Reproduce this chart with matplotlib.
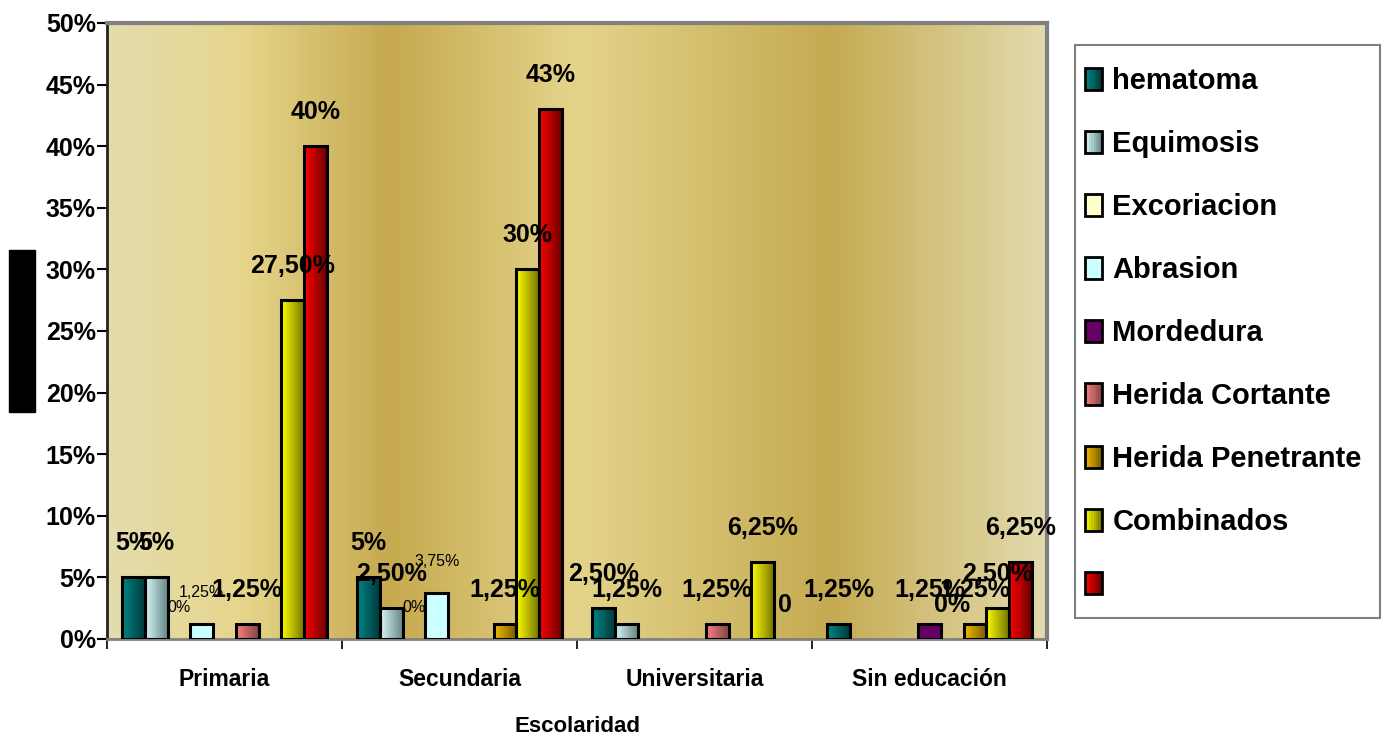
#!/usr/bin/env python3
"""
Tipo de lesión según escolaridad: barras agrupadas con relleno en degradado.
"""

import numpy as np

import matplotlib
matplotlib.use("Agg")
import matplotlib.pyplot as plt
from matplotlib.colors import LinearSegmentedColormap, to_rgb
from matplotlib.legend_handler import HandlerBase
from matplotlib.patches import Rectangle

plt.rcParams['font.family'] = ['Liberation Sans', 'DejaVu Sans']

niveles = ["Primaria", "Secundaria", "Universitaria", "Sin educación"]

series = ["hematoma", "Equimosis", "Excoriacion", "Abrasion", "Mordedura",
          "Herida Cortante", "Herida Penetrante", "Combinados", ""]

# porcentajes por nivel; None = sin barra ni etiqueta
hematoma = [5, 5, 2.5, 1.25]
equimosis = [5, 2.5, 1.25, None]
excoriacion = [0, 0, None, None]
abrasion = [1.25, 3.75, None, None]
mordedura = [None, None, None, 1.25]
herida_cortante = [1.25, None, 1.25, 0]
herida_penetrante = [None, 1.25, None, 1.25]
combinados = [27.5, 30, 6.25, 2.5]
sin_nombre = [40, 43, 0, 6.25]

datos = [hematoma, equimosis, excoriacion, abrasion, mordedura,
         herida_cortante, herida_penetrante, combinados, sin_nombre]

# (serie, nivel) con texto distinto al formato normal
etiqueta_especial = {(8, 2): "0"}
# (serie, nivel) con etiqueta fina y pequeña
etiquetas_finas = {(2, 0), (3, 0), (2, 1), (3, 1)}

# color izquierdo / derecho del degradado de cada serie
colores = [("#008585", "#003a3a"), ("#d6f8f8", "#668686"),
           ("#ffffcc", "#ffffcc"), ("#ccffff", "#ccffff"),
           ("#660066", "#660066"), ("#f88080", "#844646"),
           ("#f5bb00", "#765c00"), ("#ffff00", "#767600"),
           ("#ff0000", "#6c0000")]


def etiqueta(valor):
    if valor == int(valor):
        return f"{int(valor)}%"
    return f"{valor:.2f}%".replace(".", ",")


class HandlerDegradado(HandlerBase):
    """Cuadro de leyenda con el mismo degradado que las barras."""

    def __init__(self, izq, der, pasos=8):
        super().__init__()
        self.izq = np.array(to_rgb(izq))
        self.der = np.array(to_rgb(der))
        self.pasos = pasos

    def create_artists(self, legend, orig_handle, xdescent, ydescent,
                       width, height, fontsize, trans):
        artistas = []
        ancho = width / self.pasos
        for k in range(self.pasos):
            t = k / (self.pasos - 1)
            c = self.izq * (1 - t) + self.der * t
            artistas.append(Rectangle((-xdescent + k * ancho, -ydescent),
                                      ancho, height, facecolor=c,
                                      edgecolor='none', transform=trans))
        artistas.append(Rectangle((-xdescent, -ydescent), width, height,
                                  facecolor='none', edgecolor='black',
                                  linewidth=2, transform=trans))
        return artistas


def main() -> None:
    fig = plt.figure(figsize=(13.86, 7.38), dpi=100)
    ax = fig.add_axes([107 / 1386, 99 / 738, 940 / 1386, 616 / 738])

    fondo = LinearSegmentedColormap.from_list(
        "fondo", [(0.0, "#e4dcae"), (0.14, "#e6d68c"), (0.30, "#c6a94f"),
                  (0.50, "#e4d48b"), (0.77, "#c5aa51"), (1.0, "#e3dbae")])
    ax.imshow(np.linspace(0, 1, 512)[None, :], cmap=fondo, aspect='auto',
              extent=[0, 1, 0, 1], transform=ax.transAxes, zorder=0)

    x = np.arange(len(niveles))
    w = 0.0965
    gradiente = np.linspace(0, 1, 64)[None, :]
    manejadores = {}
    for j, (nombre, valores) in enumerate(zip(series, datos)):
        idx = [i for i, v in enumerate(valores) if v is not None]
        alturas = [valores[i] for i in idx]
        rects = ax.bar(x[idx] + (j - 4) * w, alturas, width=w,
                       facecolor='none', edgecolor='black',
                       linewidth=[2.2 if h > 0 else 0 for h in alturas],
                       zorder=3)
        cmap = LinearSegmentedColormap.from_list(f"s{j}", colores[j])
        for r in rects:
            if r.get_height() > 0:
                ax.imshow(gradiente, cmap=cmap, aspect='auto',
                          interpolation='bilinear', zorder=2,
                          extent=[r.get_x(), r.get_x() + r.get_width(),
                                  0, r.get_height()])
        for i, r in zip(idx, rects):
            texto = etiqueta_especial.get((j, i), etiqueta(valores[i]))
            xc = r.get_x() + r.get_width() / 2
            if (j, i) in etiquetas_finas:
                ax.annotate(texto, (xc, r.get_height()), xytext=(0, 22.5),
                            textcoords='offset points', ha='center',
                            va='center', fontsize=11.5, zorder=5)
            else:
                ax.annotate(texto, (xc, r.get_height()), xytext=(0, 24.5),
                            textcoords='offset points', ha='center',
                            va='center', fontsize=18, fontweight='bold',
                            zorder=5)
        proxy = Rectangle((0, 0), 1, 1, label=nombre)
        manejadores[proxy] = HandlerDegradado(*colores[j])

    ax.set_xlim(-0.5, len(niveles) - 0.5)
    ax.set_ylim(0, 50)

    ax.set_yticks(np.arange(0, 51, 5))
    ax.set_yticklabels([f"{v}%" for v in range(0, 51, 5)])
    ax.tick_params(axis='y', length=7, width=1.5, pad=1, labelsize=18)
    for t in ax.get_yticklabels():
        t.set_fontweight('bold')

    ax.set_xticks(np.arange(-0.5, len(niveles), 1.0))
    ax.set_xticklabels([])
    ax.tick_params(axis='x', which='major', length=7, width=1.2)
    ax.set_xticks(x, minor=True)
    ax.set_xticklabels(niveles, minor=True, fontsize=16.5, fontweight='bold')
    ax.tick_params(axis='x', which='minor', length=0, pad=21)
    ax.set_xlabel("Escolaridad", fontsize=16, fontweight='bold', labelpad=18)

    ax.spines['left'].set_color('#222222')
    ax.spines['left'].set_linewidth(2)
    ax.spines['bottom'].set_color('#808080')
    ax.spines['bottom'].set_linewidth(2)
    for lado in ('top', 'right'):
        ax.spines[lado].set_color('#808080')
        ax.spines[lado].set_linewidth(3)

    # marco de la leyenda
    fig.add_artist(Rectangle((1075 / 1386, 120 / 738), 305 / 1386, 573 / 738,
                             transform=fig.transFigure, facecolor='white',
                             edgecolor='#808080', linewidth=1.5, zorder=1))
    fig.legend(handles=list(manejadores), handler_map=manejadores,
               loc='upper left', bbox_to_anchor=(1085 / 1386, 671 / 738),
               prop={'size': 21, 'weight': 'bold'}, frameon=False,
               handlelength=0.59, handleheight=0.76, handletextpad=0.35,
               labelspacing=1.2, borderpad=0, borderaxespad=0)

    # bloque negro del título del eje vertical
    fig.add_artist(Rectangle((9 / 1386, 326 / 738), 26 / 1386, 162 / 738,
                             transform=fig.transFigure, color='black'))

    fig.savefig("out.png", dpi=100)


if __name__ == '__main__':
    main()
